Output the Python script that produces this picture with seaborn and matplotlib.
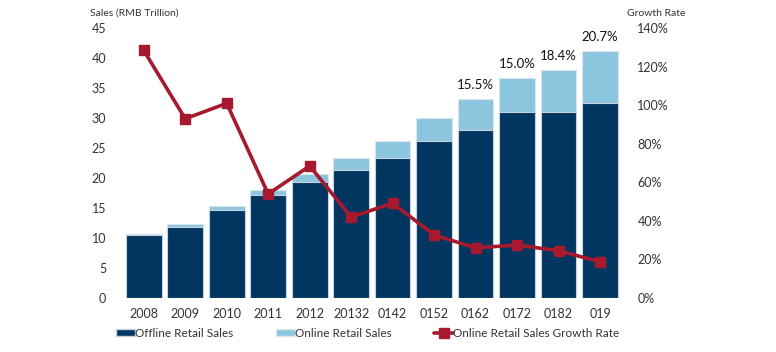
import numpy as np
import pandas as pd
import matplotlib
matplotlib.use("Agg")
import matplotlib.pyplot as plt
import seaborn as sns
from matplotlib.patches import Patch
from matplotlib.lines import Line2D

years = ["2008", "2009", "2010", "2011", "2012", "20132", "0142", "0152",
         "0162", "0172", "0182", "019"]
offline = [10.5, 11.8, 14.7, 17.2, 19.3, 21.3, 23.3, 26.1, 28.0, 31.0, 31.0, 32.5]
total = [10.7, 12.3, 15.3, 18.0, 20.7, 23.3, 26.1, 30.0, 33.2, 36.7, 38.0, 41.2]
growth = [128.5, 93.0, 101.0, 54.0, 68.5, 42.0, 49.2, 32.7, 26.0, 27.5, 24.5, 18.8]
share_labels = {"0162": "15.5%", "0172": "15.0%", "0182": "18.4%", "019": "20.7%"}

navy = "#003660"
light = "#8cc5de"
red = "#a6192e"
txt = "#333333"

sns.set_style("white")
plt.rcParams["font.family"] = ["Lato", "DejaVu Sans"]

df = pd.DataFrame({"year": years, "offline": offline, "total": total, "growth": growth})

fig = plt.figure(figsize=(7.76, 3.52), dpi=100)
ax = fig.add_axes([0.1585, 0.1534, 0.6415, 0.7666])

sns.barplot(data=df, x="year", y="total", color=light, width=0.86,
            edgecolor="#d9e6ee", linewidth=0.8, saturation=1, ax=ax)
sns.barplot(data=df, x="year", y="offline", color=navy, width=0.86,
            edgecolor="#c7d3dc", linewidth=0.8, saturation=1, ax=ax)

ax.set_ylim(0, 45)
ax.set_xlim(-0.5, len(years) - 0.5)
ax.set_yticks(range(0, 46, 5))
ax.set_xlabel("")
ax.set_ylabel("")
ax.tick_params(axis="both", length=0, labelsize=9, colors=txt)
ax.tick_params(axis="y", pad=12)
ax.tick_params(axis="x", pad=7)
for s in ax.spines.values():
    s.set_visible(False)

for i, (y, t) in enumerate(zip(years, total)):
    if y in share_labels:
        ax.text(i, t + 1.4, share_labels[y], ha="center", va="bottom",
                fontsize=9.5, color="#111111")

ax2 = ax.twinx()
ax2.plot(np.arange(len(years)), growth, color=red, lw=2.6, marker="s",
         markersize=6.5, zorder=5)
ax2.set_ylim(0, 140)
ax2.set_yticks(range(0, 141, 20))
ax2.set_yticklabels([f"{v}%" for v in range(0, 141, 20)])
ax2.tick_params(axis="y", length=0, labelsize=9, colors=txt, pad=12)
for s in ax2.spines.values():
    s.set_visible(False)

fig.text(0.116, 0.962, "Sales (RMB Trillion)", fontsize=7.5, color=txt, va="center")
fig.text(0.808, 0.962, "Growth Rate", fontsize=7.5, color=txt, va="center")

handles = [
    Patch(facecolor=navy, edgecolor="#c7d3dc", label="Offline Retail Sales"),
    Patch(facecolor=light, edgecolor="#d9e6ee", label="Online Retail Sales"),
    Line2D([0], [0], color=red, lw=2.6, marker="s", markersize=6.5,
           label="Online Retail Sales Growth Rate"),
]
fig.legend(handles=handles, loc="center", bbox_to_anchor=(0.474, 0.053), ncol=3,
           frameon=False, fontsize=8.5, handlelength=1.6, handleheight=0.5,
           handletextpad=0.0, columnspacing=3.6, labelcolor=txt)

fig.savefig("out.png", dpi=100)
